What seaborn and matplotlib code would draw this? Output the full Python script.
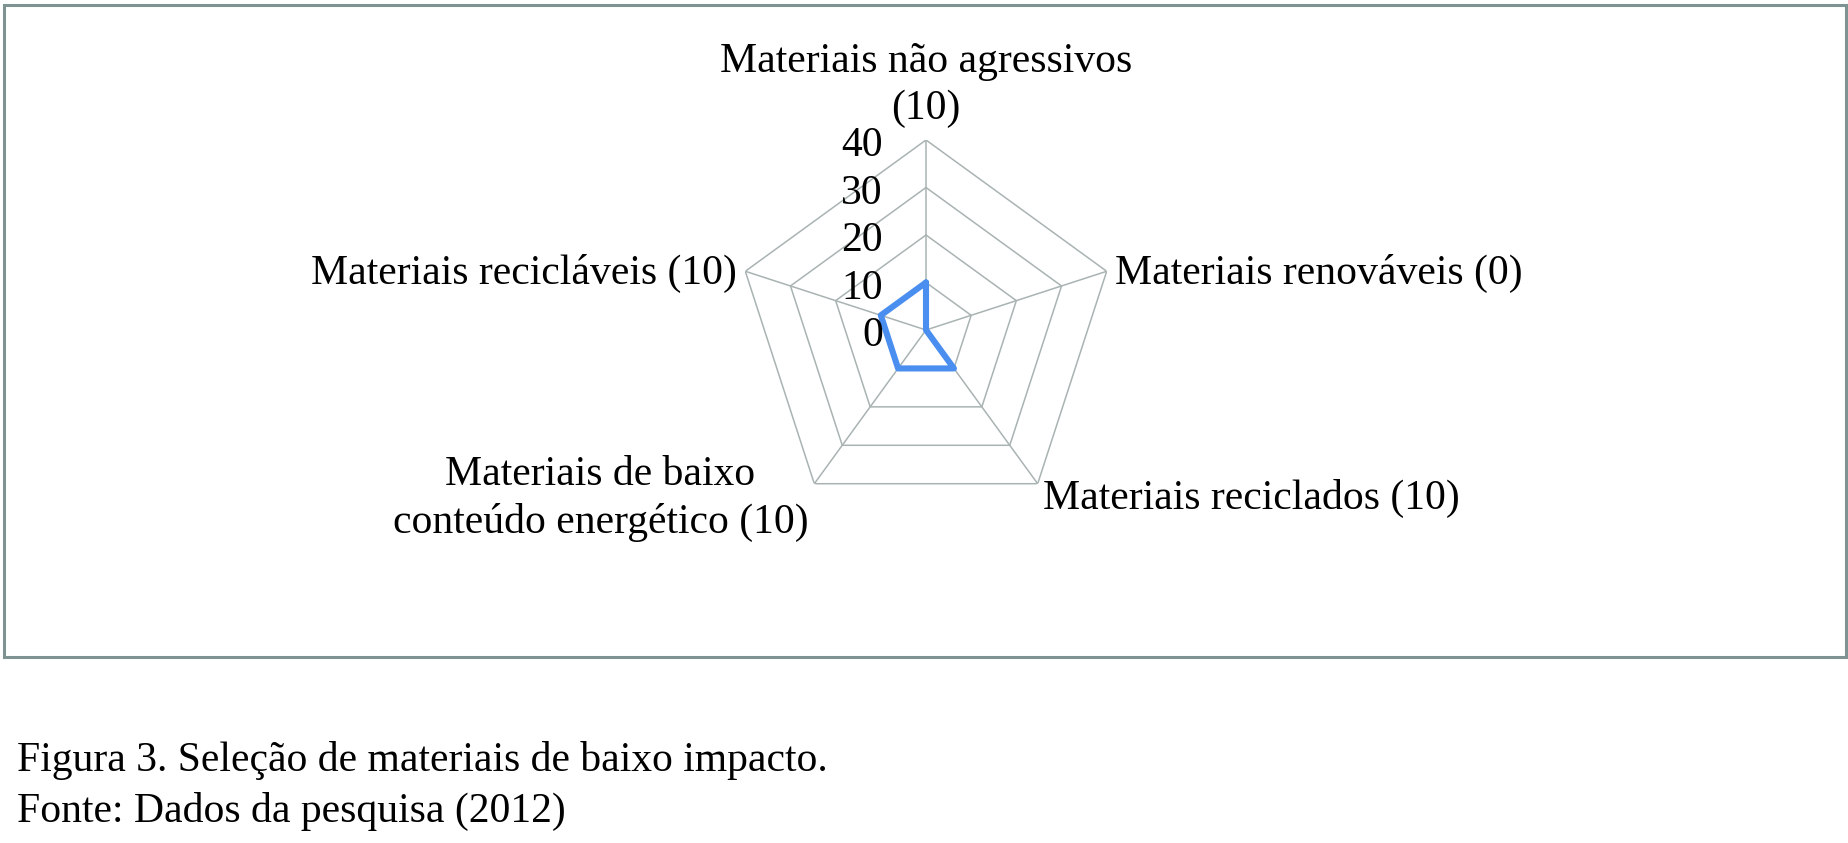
import numpy as np
import pandas as pd
import matplotlib
matplotlib.use("Agg")
import matplotlib.pyplot as plt
import matplotlib.patches as mpatches
import seaborn as sns

# Data (clockwise from top)
categories = [
    "Materiais não agressivos\n(10)",
    "Materiais renováveis (0)",
    "Materiais reciclados (10)",
    "Materiais de baixo\nconteúdo energético (10)",
    "Materiais recicláveis (10)",
]
values = [10, 0, 10, 10, 10]
r_ticks = [0, 10, 20, 30, 40]

sns.set_style("white")
plt.rcParams["font.family"] = ["Liberation Serif", "DejaVu Serif"]
plt.rcParams["font.size"] = 30
plt.rcParams["text.color"] = "black"

fig = plt.figure(figsize=(18.48, 8.43), dpi=100)
W, H = 1848, 843

# polar axes centred at (926, 330) px, radius 190 px
cx, cy, rad = 926, 330, 190
ax = fig.add_axes([(cx - rad) / W, 1 - (cy + rad) / H, 2 * rad / W, 2 * rad / H],
                  projection="polar")
ax.set_theta_offset(np.pi / 2)
ax.set_theta_direction(-1)

angles = np.linspace(0, 2 * np.pi, len(categories), endpoint=False)
closed = np.append(angles, angles[0] + 2 * np.pi)

grid_col = "#aab3b3"
for r in r_ticks[1:]:
    ax.plot(closed, [r] * len(closed), color=grid_col, lw=1.1, zorder=1)
for a in angles:
    ax.plot([a, a], [0, r_ticks[-1]], color=grid_col, lw=1.1, zorder=1)

df = pd.DataFrame({"theta": closed, "value": values + values[:1]})
sns.lineplot(data=df, x="theta", y="value", sort=False, estimator=None, ax=ax,
             color="#4a8ef0", lw=4.4, zorder=3)

ax.set_ylim(0, r_ticks[-1])
ax.set_xticks([])
ax.set_yticks([])
ax.grid(False)
ax.spines["polar"].set_visible(False)
ax.set_xlabel("")
ax.set_ylabel("")
ax.patch.set_alpha(0)

for t in r_ticks:
    ax.annotate(str(t), xy=(0, t), xytext=(-43, -6), textcoords="offset pixels",
                ha="right", va="center", fontsize=30)

# category labels around the outer ring
label_style = [
    dict(xytext=(0, 55), ha="center", va="center"),
    dict(xytext=(8, -2), ha="left", va="center"),
    dict(xytext=(5, -15), ha="left", va="center"),
    dict(xytext=(-6, -15), ha="right", va="center"),
    dict(xytext=(-8, -2), ha="right", va="center"),
]
for a, lab, st in zip(angles, categories, label_style):
    ax.annotate(lab, xy=(a, r_ticks[-1]), textcoords="offset pixels",
                multialignment="center", linespacing=1.29, fontsize=30,
                annotation_clip=False, **st)

# outer frame
fig.patches.append(mpatches.Rectangle((4 / W, 1 - 657 / H), 1842 / W, 652 / H,
                                      transform=fig.transFigure, fill=False,
                                      edgecolor="#7f9393", lw=2.2))

fig.text(17 / W, 1 - 761 / H, "Figura 3. Seleção de materiais de baixo impacto.",
         ha="left", va="center", fontsize=30)
fig.text(17 / W, 1 - 811 / H, "Fonte: Dados da pesquisa (2012)",
         ha="left", va="center", fontsize=30)

fig.savefig("out.png", dpi=100, facecolor="white")
